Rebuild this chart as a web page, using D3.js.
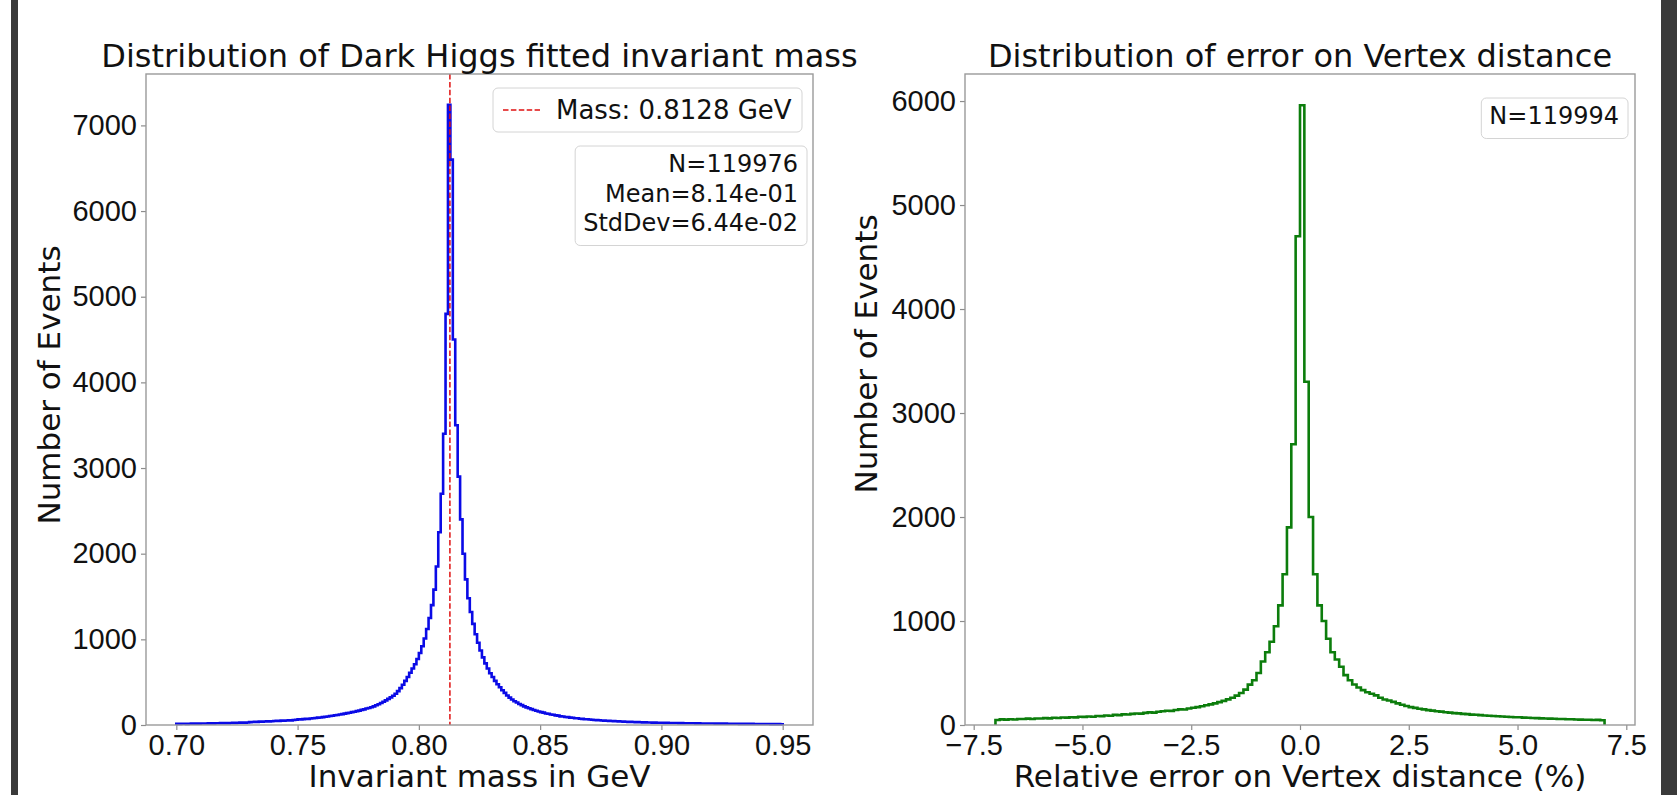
<!DOCTYPE html>
<html>
<head>
<meta charset="utf-8">
<script src="https://cdn.jsdelivr.net/npm/d3@7"></script>
<style>
  body { margin: 0; background: #fff; }
  svg { display: block; font-family: "DejaVu Sans", sans-serif; }
</style>
</head>
<body>
<svg id="chart"></svg>
<script>
// left panel: fitted invariant mass, 250 bins of 0.001 GeV from 0.70 to 0.95
const massRange = [0.70, 0.95]
const massCounts = [
    13, 12, 14, 15, 13, 15, 16, 14, 17, 16,
    17, 18, 17, 19, 20, 18, 21, 20, 22, 21,
    23, 22, 24, 26, 24, 26, 28, 26, 28, 30,
    33, 35, 37, 35, 40, 38, 40, 43, 41, 44,
    46, 48, 47, 51, 50, 53, 56, 54, 59, 61,
    66, 64, 69, 72, 71, 76, 79, 81, 86, 88,
    92, 97, 99, 105, 108, 113, 117, 123, 127, 133,
    139, 143, 150, 155, 162, 168, 176, 183, 192, 199,
    207, 218, 230, 243, 257, 272, 288, 305, 323, 342,
    365, 395, 430, 470, 515, 560, 610, 660, 710, 770,
    840, 920, 1010, 1120, 1250, 1400, 1580, 1850, 2250, 2700,
    3400, 4800, 7240, 6600, 4500, 3500, 2900, 2400, 2000, 1700,
    1480, 1320, 1180, 1060, 960, 870, 790, 720, 660, 605,
    560, 515, 475, 440, 405, 375, 345, 320, 298, 278,
    262, 246, 232, 218, 206, 195, 185, 175, 166, 158,
    150, 145, 134, 131, 122, 119, 112, 109, 101, 100,
    94, 92, 86, 85, 79, 78, 73, 72, 68, 67,
    64, 61, 59, 57, 55, 53, 51, 50, 48, 46,
    45, 43, 42, 41, 39, 38, 37, 36, 35, 34,
    33, 32, 31, 31, 30, 29, 28, 28, 27, 26,
    26, 25, 25, 24, 24, 23, 23, 22, 22, 21,
    21, 20, 20, 20, 19, 19, 18, 18, 18, 17,
    17, 17, 16, 16, 16, 15, 16, 15, 15, 14,
    14, 14, 13, 14, 13, 13, 12, 13, 12, 12,
    12, 11, 12, 11, 11, 10, 11, 10, 10, 9
]
const massLine = 0.8128
const massXTicks = [0.70, 0.75, 0.80, 0.85, 0.90, 0.95]
const massYTicks = [0, 1000, 2000, 3000, 4000, 5000, 6000, 7000]
const massLegend = "Mass: 0.8128 GeV"
const massStats = ["N=119976", "Mean=8.14e-01", "StdDev=6.44e-02"]

// right panel: relative vertex distance error, 140 bins of 0.1 % from -7 to 7
const vtxRange = [-7, 7]
const vtxCounts = [
    48, 54, 52, 56, 53, 58, 57, 61, 58, 63, 62, 66, 64, 69, 67, 72, 71, 75, 73, 79,
    78, 82, 80, 87, 85, 91, 89, 97, 95, 102, 101, 107, 111, 109, 117, 121, 119, 128, 132, 137,
    136, 144, 150, 149, 159, 166, 172, 180, 190, 198,
    208, 220, 232, 246, 262, 282, 308, 340, 388, 430, 500, 610, 700, 800, 950, 1150, 1450, 1900, 2700, 4700,
    5960, 3300, 2000, 1450, 1150, 1000, 830, 700, 630, 560, 480, 430, 390, 360, 335, 315, 300, 285, 262, 245,
    235, 222, 208, 195, 182, 172, 165, 156, 150, 143,
    138, 132, 129, 123, 119, 114, 112, 107, 105, 100, 98, 95, 92, 89, 87, 84, 82, 80, 77, 75,
    74, 71, 70, 68, 66, 64, 63, 61, 60, 58, 57, 55, 56, 53, 52, 51, 50, 48, 49, 46
]
const vtxXTicks = [-7.5, -5, -2.5, 0, 2.5, 5, 7.5]
const vtxYTicks = [0, 1000, 2000, 3000, 4000, 5000, 6000]
const vtxStats = ["N=119994"]

const width = 1677, height = 795
const plotTop = 74, plotBottom = 725

const svg = d3.select("#chart")
    .attr("width", width)
    .attr("height", height)

svg.append("rect").attr("width", width).attr("height", height).attr("fill", "#fff")
svg.append("rect").attr("x", 11).attr("width", 7).attr("height", height).attr("fill", "#3a3a3a")
svg.append("rect").attr("x", 1661).attr("width", 16).attr("height", height).attr("fill", "#3a3a3a")

function stepPoints(range, counts) {
    const w = (range[1] - range[0]) / counts.length
    const pts = [[range[0], 0]]
    counts.forEach((c, i) => {
        pts.push([range[0] + i * w, c], [range[0] + (i + 1) * w, c])
    })
    pts.push([range[1], 0])
    return pts
}

function panel(p) {
    const x = d3.scaleLinear().domain(p.xDomain).range([p.left, p.right])
    const y = d3.scaleLinear().domain([0, p.yMax]).range([plotBottom, plotTop])
    const g = svg.append("g")

    const xAxis = g.append("g")
        .attr("transform", `translate(0,${plotBottom})`)
        .call(d3.axisBottom(x).tickValues(p.xTicks).tickFormat(d3.format(p.xFmt)).tickSize(5).tickPadding(4))
    const yAxis = g.append("g")
        .attr("transform", `translate(${p.left},0)`)
        .call(d3.axisLeft(y).tickValues(p.yTicks).tickFormat(d3.format("d")).tickSize(5).tickPadding(4))

    for (const a of [xAxis, yAxis]) {
        a.select(".domain").remove()
        a.selectAll("line").attr("stroke", "#8c8c8c").attr("stroke-width", 1.2)
        a.selectAll("text").attr("font-size", 29).attr("fill", "#111")
    }

    const line = d3.line().x(d => x(d[0])).y(d => y(d[1]))
    g.append("path")
        .datum(stepPoints(p.range, p.counts))
        .attr("d", line)
        .attr("fill", "none")
        .attr("stroke", p.color)
        .attr("stroke-width", 2.6)
        .attr("stroke-linejoin", "miter")

    if (p.vline != null) {
        g.append("line")
            .attr("x1", x(p.vline)).attr("x2", x(p.vline))
            .attr("y1", plotTop).attr("y2", plotBottom)
            .attr("stroke", "#e01010").attr("stroke-width", 1.5)
            .attr("stroke-dasharray", "5.5,2.4")
    }

    g.append("rect")
        .attr("x", p.left).attr("y", plotTop)
        .attr("width", p.right - p.left).attr("height", plotBottom - plotTop)
        .attr("fill", "none").attr("stroke", "#9a9a9a").attr("stroke-width", 1.4)

    g.append("text")
        .attr("x", (p.left + p.right) / 2).attr("y", 67)
        .attr("text-anchor", "middle").attr("font-size", 32).attr("fill", "#111")
        .text(p.title)
    g.append("text")
        .attr("x", (p.left + p.right) / 2).attr("y", 787)
        .attr("text-anchor", "middle").attr("font-size", 31).attr("fill", "#111")
        .text(p.xLabel)
    g.append("text")
        .attr("transform", `translate(${p.yLabelX},${p.yLabelY}) rotate(-90)`)
        .attr("text-anchor", "middle").attr("font-size", 31).attr("fill", "#111")
        .text("Number of Events")

    return { g, x, y }
}

const left = panel({
    left: 146, right: 813,
    xDomain: [0.6875, 0.9625], yMax: 7600,
    range: massRange, counts: massCounts, color: "#0a0ae6",
    xTicks: massXTicks, yTicks: massYTicks, xFmt: ".2f",
    vline: massLine,
    title: "Distribution of Dark Higgs fitted invariant mass",
    xLabel: "Invariant mass in GeV",
    yLabelX: 60, yLabelY: 385
})

const right = panel({
    left: 965, right: 1635,
    xDomain: [-7.7, 7.7], yMax: 6260,
    range: vtxRange, counts: vtxCounts, color: "#0c7d0c",
    xTicks: vtxXTicks, yTicks: vtxYTicks, xFmt: ".1f",
    vline: null,
    title: "Distribution of error on Vertex distance",
    xLabel: "Relative error on Vertex distance (%)",
    yLabelX: 877, yLabelY: 354
})

// legend for the mass line
const lg = left.g.append("g")
lg.append("rect")
    .attr("x", 493).attr("y", 88).attr("width", 309).attr("height", 44).attr("rx", 5)
    .attr("fill", "#fff").attr("fill-opacity", 0.8).attr("stroke", "#d4d4d4")
lg.append("line")
    .attr("x1", 503).attr("x2", 540).attr("y1", 110).attr("y2", 110)
    .attr("stroke", "#e01010").attr("stroke-width", 1.5).attr("stroke-dasharray", "5.5,2.4")
lg.append("text")
    .attr("x", 556).attr("y", 119).attr("font-size", 26).attr("fill", "#111")
    .text(massLegend)

// stats boxes, text right-aligned
function statsBox(g, lines, xRight, yTop, lineH, fontSize) {
    const box = g.append("rect")
    const t = g.append("text").attr("font-size", fontSize).attr("fill", "#111").attr("text-anchor", "end")
    lines.forEach((s, i) => {
        t.append("tspan").attr("x", xRight).attr("y", yTop + 8 + fontSize * 0.76 + i * lineH).text(s)
    })
    const b = t.node().getBBox()
    box.attr("x", b.x - 8).attr("y", yTop).attr("width", b.width + 17)
        .attr("height", lines.length * lineH + 11).attr("rx", 5)
        .attr("fill", "#fff").attr("fill-opacity", 0.8).attr("stroke", "#d4d4d4")
}

statsBox(left.g, massStats, 798, 146, 29.5, 24)
statsBox(right.g, vtxStats, 1619, 98, 29.5, 24)
</script>
</body>
</html>
